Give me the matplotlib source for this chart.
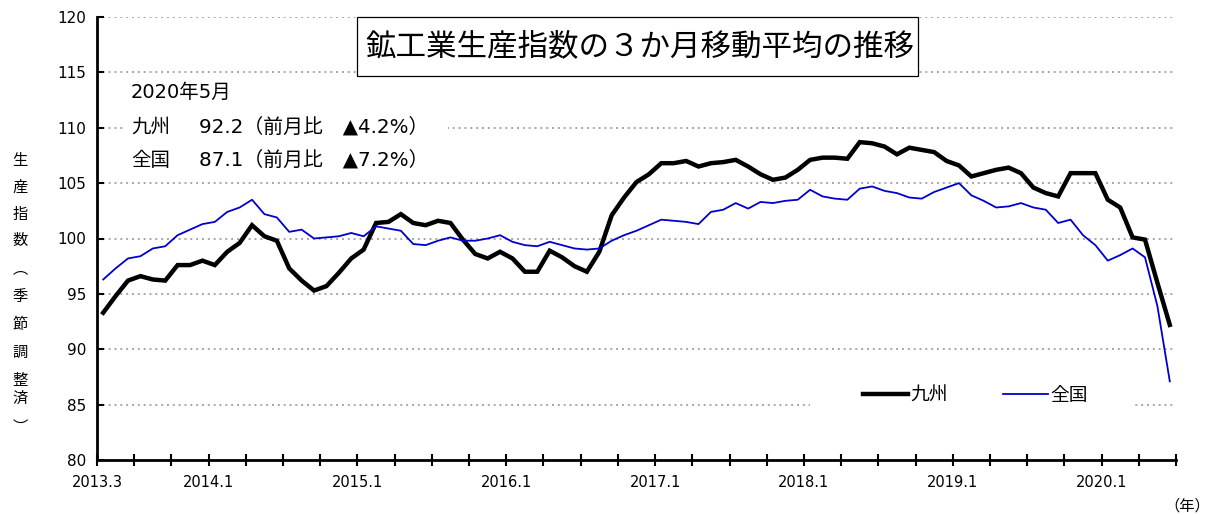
import matplotlib
matplotlib.use("Agg")
import matplotlib.pyplot as plt
from matplotlib.patches import Rectangle
from matplotlib.lines import Line2D

plt.rcParams['font.family'] = ['DejaVu Sans', 'Noto Sans CJK JP']

# ---- data (2013.3 - 2020.5, monthly, 3-month moving average) ----
kyushu = [93.3, 94.8, 96.2, 96.6, 96.3, 96.2, 97.6, 97.6, 98.0, 97.6,
          98.8, 99.6, 101.2, 100.2, 99.8, 97.3, 96.2, 95.3, 95.7, 96.9,
          98.2, 99.0, 101.4, 101.5, 102.2, 101.4, 101.2, 101.6, 101.4, 99.9,
          98.6, 98.2, 98.8, 98.2, 97.0, 97.0, 98.9, 98.3, 97.5, 97.0,
          98.8, 102.1, 103.7, 105.1, 105.8, 106.8, 106.8, 107.0, 106.5, 106.8,
          106.9, 107.1, 106.5, 105.8, 105.3, 105.5, 106.2, 107.1, 107.3, 107.3,
          107.2, 108.7, 108.6, 108.3, 107.6, 108.2, 108.0, 107.8, 107.0, 106.6,
          105.6, 105.9, 106.2, 106.4, 105.9, 104.6, 104.1, 103.8, 105.9, 105.9,
          105.9, 103.5, 102.8, 100.1, 99.9, 96.0, 92.2]
zenkoku = [96.3, 97.3, 98.2, 98.4, 99.1, 99.3, 100.3, 100.8, 101.3, 101.5,
           102.4, 102.8, 103.5, 102.2, 101.9, 100.6, 100.8, 100.0, 100.1, 100.2,
           100.5, 100.2, 101.1, 100.9, 100.7, 99.5, 99.4, 99.8, 100.1, 99.8,
           99.8, 100.0, 100.3, 99.7, 99.4, 99.3, 99.7, 99.4, 99.1, 99.0,
           99.1, 99.8, 100.3, 100.7, 101.2, 101.7, 101.6, 101.5, 101.3, 102.4,
           102.6, 103.2, 102.7, 103.3, 103.2, 103.4, 103.5, 104.4, 103.8, 103.6,
           103.5, 104.5, 104.7, 104.3, 104.1, 103.7, 103.6, 104.2, 104.6, 105.0,
           103.9, 103.4, 102.8, 102.9, 103.2, 102.8, 102.6, 101.4, 101.7, 100.3,
           99.4, 98.0, 98.5, 99.1, 98.3, 93.9, 87.1]
series_names = ['九州', '全国']
tick_labels = ['2013.3', '', '', '2014.1', '', '', '', '2015.1', '', '', '',
               '2016.1', '', '', '', '2017.1', '', '', '', '2018.1', '', '', '',
               '2019.1', '', '', '', '2020.1', '', '']
title = '鉱工業生産指数の３か月移動平均の推移'
note_date = '2020年5月'
note_rows = [('九州', '92.2（前月比　▲4.2%）'), ('全国', '87.1（前月比　▲7.2%）')]
ylabel_chars = ['生', '産', '指', '数', '︵', '季', '節', '調', '整', '済', '︶']

W, H = 1211, 515
fig = plt.figure(figsize=(W / 100, H / 100), dpi=100)


def fx(px):
    return px / W


def fy(py):
    return 1 - py / H


ax = fig.add_axes([fx(97), fy(460), fx(1176) - fx(97), fy(17) - fy(460)])

n = len(kyushu)
x = list(range(n))
ax.plot(x, kyushu, color='black', lw=3.2, zorder=3, solid_joinstyle='miter',
        label=series_names[0])
ax.plot(x, zenkoku, color='#0000CC', lw=1.3, zorder=3, label=series_names[1])

ax.set_xlim(-0.5, n - 0.5)
ax.set_ylim(80, 120)
ax.set_yticks(range(80, 121, 5))
ax.set_xticks([-0.5 + 3 * k for k in range(len(tick_labels))])
ax.set_xticklabels(tick_labels, fontsize=10.5)
ax.tick_params(axis='x', direction='inout', length=8, width=1.5, pad=7)
ax.tick_params(axis='y', direction='in', length=5, width=1.5, labelsize=11, pad=8)

for s in ['top', 'right']:
    ax.spines[s].set_visible(False)
for s in ['left', 'bottom']:
    ax.spines[s].set_linewidth(2)

for v in range(85, 121, 5):
    ax.axhline(v, color='#a6a6a6', lw=1.4, ls=(0, (1, 2)), zorder=1)

# white background for note area and legend area
ax.add_patch(Rectangle((fx(125), fy(176)), fx(448) - fx(125), fy(80) - fy(176),
                       transform=fig.transFigure, facecolor='white',
                       edgecolor='none', zorder=1.5))
ax.add_patch(Rectangle((fx(810), fy(420)), fx(1132) - fx(810), fy(370) - fy(420),
                       transform=fig.transFigure, facecolor='white',
                       edgecolor='none', zorder=1.5))

# title box
fig.patches.append(Rectangle((fx(357), fy(76)), fx(918) - fx(357), fy(17) - fy(76),
                             transform=fig.transFigure, facecolor='white',
                             edgecolor='black', lw=0.9, zorder=2))
fig.text(fx(640), fy(47), title, ha='center', va='center', fontsize=22,
         family=['Noto Sans CJK JP'], zorder=3)

# note text
fig.text(fx(131), fy(92), note_date, ha='left', va='center', fontsize=14)
for i, (name, txt) in enumerate(note_rows):
    yy = fy(127 + 33 * i)
    fig.text(fx(131), yy, name, ha='left', va='center', fontsize=14,
             family=['Noto Sans CJK JP'])
    fig.text(fx(199), yy, txt + ' ', ha='left', va='center', fontsize=14.3)

# legend
handles = [Line2D([], [], color='black', lw=3.2),
           Line2D([], [], color='#0000CC', lw=1.3)]
ax.legend(handles, series_names, ncol=2, loc='center left',
          bbox_to_anchor=(fx(846), fy(395)), bbox_transform=fig.transFigure,
          frameon=False, handlelength=2.4, handletextpad=0.15,
          columnspacing=2.9, prop={'family': ['Noto Sans CJK JP'], 'size': 13.5})

# vertical y label
ypos = [160, 187, 214, 241, 269, 297, 325, 352, 380, 398, 427]
for ch, py in zip(ylabel_chars, ypos):
    fig.text(fx(20), fy(py), ch, ha='center', va='center',
             fontsize=11, family=['Noto Sans CJK JP'])

fig.text(fx(1210), fy(506), '（年）', ha='right', va='center', fontsize=11,
         family=['Noto Sans CJK JP'])

fig.savefig('out.png', dpi=100)
